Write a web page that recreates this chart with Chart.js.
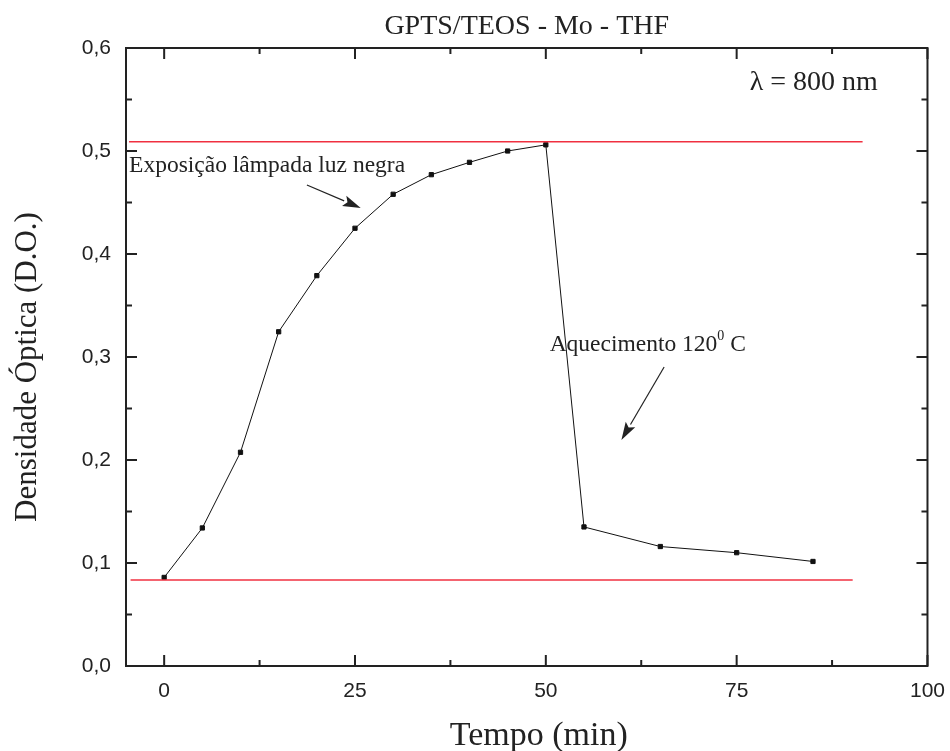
<!DOCTYPE html>
<html>
<head>
<meta charset="utf-8">
<script src="https://cdn.jsdelivr.net/npm/chart.js@4.4.0/dist/chart.umd.min.js"></script>
<style>
  html, body { margin: 0; padding: 0; background: #fff; }
  #wrap { width: 950px; height: 751px; }
</style>
</head>
<body>
<div id="wrap"><canvas id="chartDO"></canvas></div>
<script>
// Tempo (min) e densidade optica medida
const tempo = [0, 5, 10, 15, 20, 25, 30, 35, 40, 45, 50, 55, 65, 75, 85];
const densidade = [0.086, 0.134, 0.2075, 0.3245, 0.379, 0.425, 0.458, 0.477, 0.489, 0.500, 0.506, 0.135, 0.116, 0.110, 0.1015];

// linhas de referencia (vermelhas)
const linhaSupX = [-4.6, 91.5];
const linhaSupY = [0.509, 0.509];
const linhaInfX = [-4.4, 90.2];
const linhaInfY = [0.0835, 0.0835];

// marcas dos eixos
const xMajor = [0, 25, 50, 75, 100];
const xMinor = [12.5, 37.5, 62.5, 87.5];
const yMajor = [0, 0.1, 0.2, 0.3, 0.4, 0.5, 0.6];
const yMinor = [0.05, 0.15, 0.25, 0.35, 0.45, 0.55];

const serif = '"Liberation Serif", "Times New Roman", serif';
const sans = '"Liberation Sans", Arial, sans-serif';

// textos e setas (em coordenadas dos dados)
const textos = [
  { text: 'Exposição lâmpada luz negra', x: -4.6, y: 0.4797, size: 23.5 },
  { text: 'λ = 800 nm', x: 76.7, y: 0.559, size: 28 },
  { text: 'Aquecimento 120', x: 50.5, y: 0.306, size: 23.5, sup: '0', after: ' C' }
];
const setas = [
  { x1: 18.7, y1: 0.467, x2: 25.75, y2: 0.4447 },
  { x1: 65.5, y1: 0.2903, x2: 59.9, y2: 0.2194 }
];

const eixosPlugin = {
  id: 'eixos',
  afterDraw(chart) {
    const { ctx, chartArea: a, scales: { x, y } } = chart;
    ctx.save();
    ctx.strokeStyle = '#222';
    ctx.lineWidth = 2;
    ctx.strokeRect(a.left, a.top, a.right - a.left, a.bottom - a.top);
    const tick = (vals, len) => {
      vals.forEach(v => {
        const px = x.getPixelForValue(v);
        ctx.beginPath();
        ctx.moveTo(px, a.bottom); ctx.lineTo(px, a.bottom - len);
        ctx.moveTo(px, a.top); ctx.lineTo(px, a.top + len);
        ctx.stroke();
      });
    };
    const tickY = (vals, len) => {
      vals.forEach(v => {
        const py = y.getPixelForValue(v);
        ctx.beginPath();
        ctx.moveTo(a.left, py); ctx.lineTo(a.left + len, py);
        ctx.moveTo(a.right, py); ctx.lineTo(a.right - len, py);
        ctx.stroke();
      });
    };
    tick(xMajor, 11); tick(xMinor, 6);
    tickY(yMajor, 11); tickY(yMinor, 6);

    // titulos dos eixos
    ctx.fillStyle = '#222';
    ctx.textAlign = 'center';
    ctx.textBaseline = 'alphabetic';
    ctx.font = '34px ' + serif;
    ctx.fillText('Tempo (min)', (a.left + a.right) / 2 + 12, 745);
    ctx.save();
    ctx.translate(36, (a.top + a.bottom) / 2 + 10);
    ctx.rotate(-Math.PI / 2);
    ctx.font = '31px ' + serif;
    ctx.fillText('Densidade Óptica (D.O.)', 0, 0);
    ctx.restore();

    // anotacoes
    ctx.textAlign = 'left';
    textos.forEach(t => {
      ctx.font = t.size + 'px ' + serif;
      const px = x.getPixelForValue(t.x), py = y.getPixelForValue(t.y);
      ctx.fillText(t.text, px, py);
      if (t.sup) {
        let w = ctx.measureText(t.text).width;
        ctx.font = Math.round(t.size * 0.6) + 'px ' + serif;
        ctx.fillText(t.sup, px + w, py - t.size * 0.45);
        w += ctx.measureText(t.sup).width;
        ctx.font = t.size + 'px ' + serif;
        ctx.fillText(t.after, px + w, py);
      }
    });
    ctx.strokeStyle = '#222';
    ctx.lineWidth = 1.2;
    setas.forEach(s => {
      const x1 = x.getPixelForValue(s.x1), y1 = y.getPixelForValue(s.y1);
      const x2 = x.getPixelForValue(s.x2), y2 = y.getPixelForValue(s.y2);
      const ang = Math.atan2(y2 - y1, x2 - x1);
      const L = 18, W = 5.5;
      const bx = x2 - L * Math.cos(ang), by = y2 - L * Math.sin(ang);
      ctx.beginPath();
      ctx.moveTo(x1, y1); ctx.lineTo(bx, by);
      ctx.stroke();
      ctx.beginPath();
      ctx.moveTo(x2, y2);
      ctx.lineTo(bx + W * Math.sin(ang), by - W * Math.cos(ang));
      ctx.lineTo(bx + 0.2 * L * Math.cos(ang), by + 0.2 * L * Math.sin(ang));
      ctx.lineTo(bx - W * Math.sin(ang), by + W * Math.cos(ang));
      ctx.closePath();
      ctx.fill();
    });
    ctx.restore();
  }
};

const pontos = tempo.map((t, i) => ({ x: t, y: densidade[i] }));
const sup = linhaSupX.map((v, i) => ({ x: v, y: linhaSupY[i] }));
const inf = linhaInfX.map((v, i) => ({ x: v, y: linhaInfY[i] }));

const ctxDO = document.getElementById('chartDO').getContext('2d');
const chartDO = new Chart(ctxDO, {
  type: 'scatter',
  data: {
    datasets: [
      {
        label: 'sup',
        data: sup,
        showLine: true,
        borderColor: '#f03040',
        borderWidth: 1.5,
        pointRadius: 0
      },
      {
        label: 'inf',
        data: inf,
        showLine: true,
        borderColor: '#f03040',
        borderWidth: 1.5,
        pointRadius: 0
      },
      {
        label: 'D.O.',
        data: pontos,
        showLine: true,
        borderColor: '#111',
        borderWidth: 1,
        pointStyle: 'rect',
        pointRadius: 3,
        pointBorderWidth: 1,
        pointBackgroundColor: '#111',
        pointBorderColor: '#111'
      }
    ]
  },
  options: {
    responsive: true,
    maintainAspectRatio: false,
    animation: false,
    layout: { padding: { left: 0, right: 12, top: 0, bottom: 0 } },
    plugins: {
      legend: { display: false },
      tooltip: { enabled: false },
      title: {
        display: true,
        fullSize: false,
        text: 'GPTS/TEOS - Mo - THF',
        color: '#222',
        font: { family: serif, size: 28, weight: 'normal', lineHeight: 1.2 },
        padding: { top: 10.2, bottom: 4.2 }
      }
    },
    scales: {
      x: {
        type: 'linear',
        min: -5,
        max: 100,
        afterBuildTicks: s => { s.ticks = xMajor.map(v => ({ value: v })); },
        afterFit: s => { s.height = 85; },
        grid: { display: false },
        border: { display: false },
        ticks: { color: '#222', padding: 5, font: { family: sans, size: 21 } }
      },
      y: {
        min: 0,
        max: 0.6,
        afterBuildTicks: s => { s.ticks = yMajor.map(v => ({ value: v })); },
        afterFit: s => { s.width = 126; },
        grid: { display: false },
        border: { display: false },
        ticks: {
          color: '#222',
          padding: 7,
          font: { family: sans, size: 21 },
          callback: v => v.toFixed(1).replace('.', ',')
        }
      }
    }
  },
  plugins: [eixosPlugin]
});
</script>
</body>
</html>
